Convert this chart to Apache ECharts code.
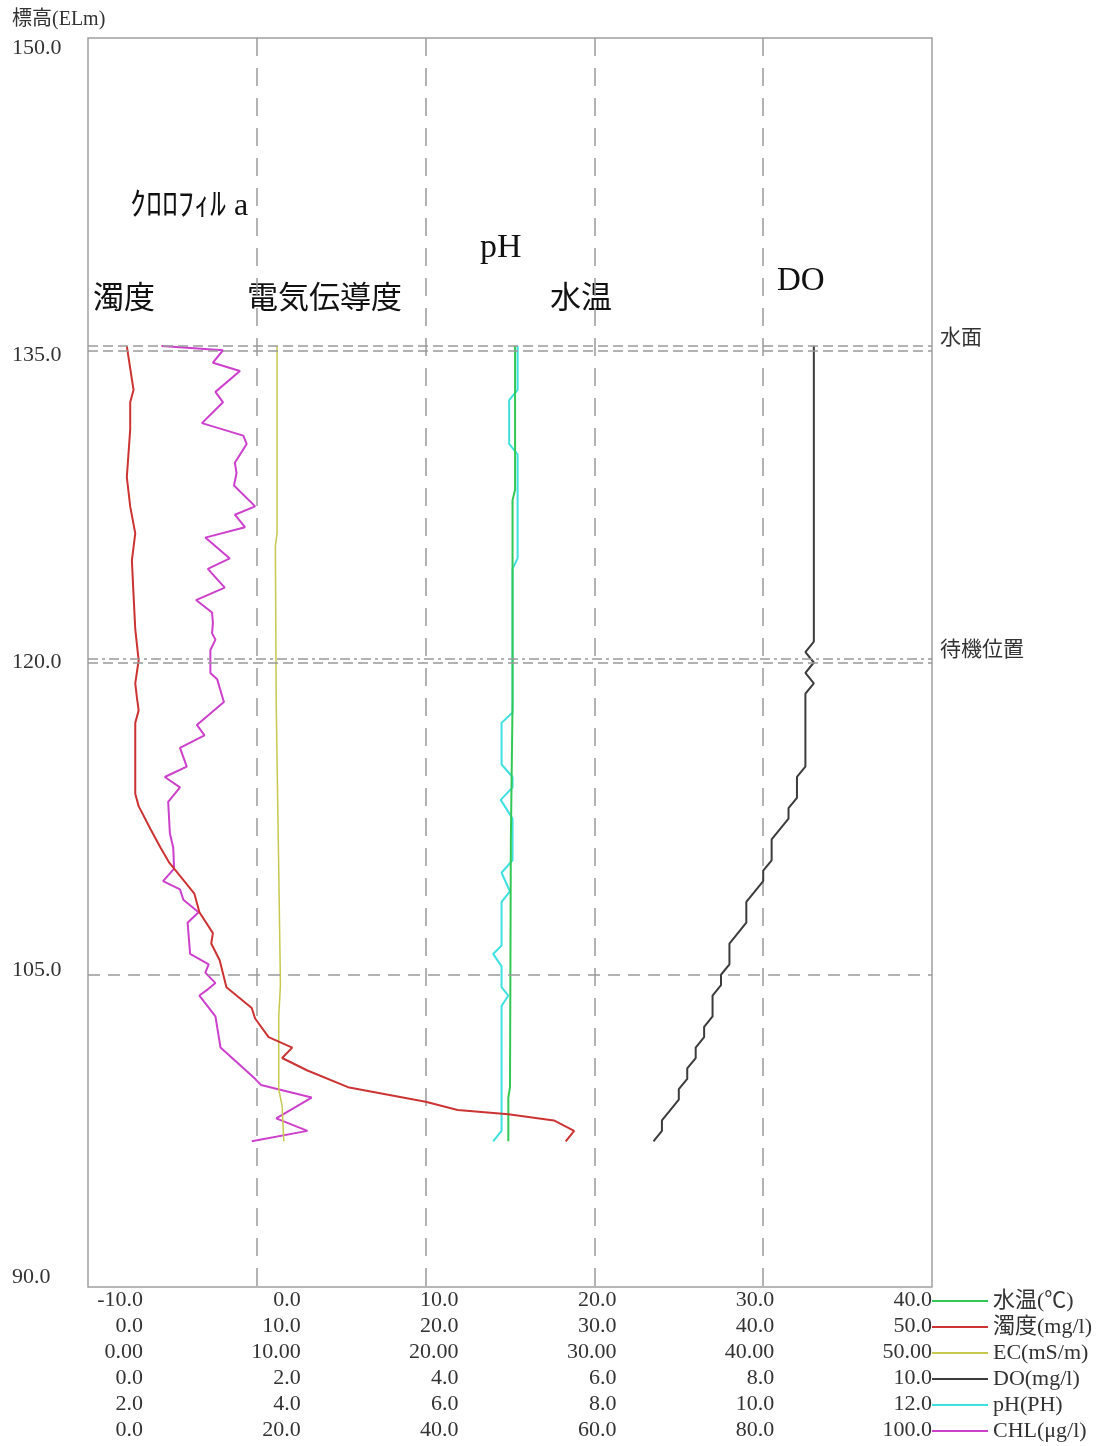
<!DOCTYPE html>
<html><head><meta charset="utf-8">
<script src="https://cdn.jsdelivr.net/npm/echarts@6/dist/echarts.min.js"></script>
<style>html,body{margin:0;padding:0;background:#fff}#c{width:1107px;height:1446px}</style>
</head><body><div id="c"></div>
<script>
// ---------------- data ----------------
const xAxisNames    = ['水温(℃)', '濁度(mg/l)', 'EC(mS/m)', 'DO(mg/l)', 'pH(PH)', 'CHL(μg/l)'];
const xAxisMin      = [-10, 0, 0, 0, 2, 0];
const xAxisMax      = [40, 50, 50, 10, 12, 100];
const xAxisStep     = [10, 10, 10, 2, 2, 20];
const xAxisDecimals = [1, 1, 2, 1, 1, 1];
const yMin = 90, yMax = 150, yStep = 15;
const refLines = [135.2, 135.0, 120.2, 120.0, 105.0];

const tempElev = [135.2, 128.3, 127.8, 118.0, 111.5, 99.6, 99.1, 97.0];
const tempVal  = [15.3, 15.3, 15.15, 15.15, 15.05, 15.0, 14.9, 14.9];

const turbElev = [135.2, 133.6, 133.1, 132.5, 131.2, 128.9, 127.5, 126.2, 124.9, 123.2, 121.6, 120.1, 119.0, 118.3, 117.7, 117.1, 115.9, 113.7, 113.1, 112.0, 111.1, 110.4, 109.7, 108.9, 108.0, 107.0, 106.5, 105.7, 104.4, 103.4, 102.9, 102.0, 101.5, 101.0, 100.4, 99.6, 98.9, 98.5, 98.3, 98.0, 97.5, 97.0];
const turbVal  = [2.3, 2.6, 2.7, 2.5, 2.5, 2.3, 2.5, 2.8, 2.6, 2.7, 2.8, 3.0, 2.8, 2.9, 3.0, 2.8, 2.8, 2.8, 3.0, 3.7, 4.3, 4.8, 5.5, 6.3, 6.6, 7.4, 7.3, 7.8, 8.2, 9.7, 9.9, 10.7, 12.1, 11.5, 13.0, 15.4, 20.0, 21.9, 24.9, 27.6, 28.8, 28.3];

const ecElev = [135.2, 126.2, 125.6, 118.0, 110.0, 104.5, 103.0, 99.5, 98.7, 97.0];
const ecVal  = [11.2, 11.2, 11.1, 11.15, 11.3, 11.4, 11.3, 11.3, 11.5, 11.6];

const doElev = [135.2, 121.0, 120.5, 120.0, 119.5, 119.0, 118.5, 115.0, 114.5, 113.5, 113.0, 112.5, 111.5, 110.5, 110.0, 109.5, 108.5, 107.5, 106.5, 105.5, 105.0, 104.5, 104.0, 103.0, 102.5, 102.0, 101.5, 101.0, 100.5, 100.0, 99.5, 99.0, 98.0, 97.5, 97.0];
const doVal  = [8.6, 8.6, 8.5, 8.6, 8.5, 8.6, 8.5, 8.5, 8.4, 8.4, 8.3, 8.3, 8.1, 8.1, 8.0, 8.0, 7.8, 7.8, 7.6, 7.6, 7.5, 7.5, 7.4, 7.4, 7.3, 7.3, 7.2, 7.2, 7.1, 7.1, 7.0, 7.0, 6.8, 6.8, 6.7];

const phElev = [135.2, 133.1, 132.6, 130.5, 130.0, 125.0, 124.5, 117.6, 117.1, 115.1, 114.5, 114.0, 113.4, 112.5, 110.5, 109.9, 109.0, 108.5, 106.4, 106.0, 105.4, 104.4, 104.0, 103.5, 97.5, 97.0];
const phVal  = [7.09, 7.09, 6.99, 6.99, 7.09, 7.09, 7.03, 7.03, 6.90, 6.90, 7.03, 7.03, 6.89, 7.03, 7.03, 6.90, 7.00, 6.90, 6.90, 6.80, 6.90, 6.90, 6.98, 6.90, 6.90, 6.80];

const chlElev = [135.2, 135.0, 134.4, 134.0, 133.0, 132.5, 131.5, 130.9, 130.5, 129.6, 129.1, 128.5, 127.5, 127.1, 126.5, 126.0, 125.0, 124.5, 123.6, 123.0, 122.4, 121.9, 121.4, 121.1, 120.6, 119.5, 119.2, 118.1, 117.0, 116.5, 115.9, 115.0, 114.5, 114.0, 113.3, 111.8, 111.1, 110.1, 109.5, 109.1, 108.6, 108.0, 107.5, 106.0, 105.5, 105.1, 104.6, 104.3, 104.0, 103.0, 101.5, 100.0, 99.7, 99.1, 98.1, 97.5, 97.0];
const chlVal  = [8.7, 16.0, 14.8, 18.0, 15.1, 16.0, 13.5, 18.4, 18.8, 17.4, 17.6, 17.3, 19.8, 17.4, 18.6, 13.9, 16.8, 14.2, 16.2, 12.8, 14.7, 14.8, 14.7, 15.1, 14.5, 14.5, 15.3, 16.1, 12.9, 13.8, 10.9, 11.7, 9.1, 10.9, 9.5, 9.7, 10.1, 10.2, 8.9, 10.9, 11.3, 13.1, 11.8, 12.1, 14.3, 13.9, 15.1, 14.2, 13.2, 15.1, 15.7, 19.8, 20.5, 26.5, 22.3, 26.0, 19.4];

// ---------------- layout / style ----------------
const SERIF = "'Liberation Serif','Noto Sans CJK JP',serif";
const SANS = "'Noto Sans CJK JP',sans-serif";
const G = {left: 88, top: 38, width: 844, height: 1249};
const LBL_R0 = 143, LBL_RN = 932;      // right edges of first/last x labels
const LBL_SIZE = 22;
const ROW = 26;
const colors = {temp: '#33c855', turb: '#cc3333', ec: '#c8c850', do: '#3c3c3c', ph: '#3fe0e0', chl: '#cc40cc'};

const measure = (() => { const ctx = document.createElement('canvas').getContext('2d'); return (s, f) => { ctx.font = f; return ctx.measureText(s).width; }; })();
const lblFontStr = LBL_SIZE + 'px ' + SERIF;

function buildXAxis(i) {
  const min = xAxisMin[i], max = xAxisMax[i], step = xAxisStep[i], dec = xAxisDecimals[i];
  const n = Math.round((max - min) / step);
  const rich = {t: {fontFamily: SERIF, fontSize: LBL_SIZE, lineHeight: 22, color: '#333'}};
  const side = [];
  for (let k = 0; k <= n; k++) {
    const txt = (min + k * step).toFixed(dec);
    const w = measure(txt, lblFontStr);
    const tick = G.left + k * G.width / n;
    const right = LBL_R0 + k * (LBL_RN - LBL_R0) / n;
    const d = (right - w / 2) - tick;
    side[k] = d >= 0 ? 'L' : 'R';
    rich['s' + k] = {width: Math.max(0.01, 2 * Math.abs(d)), fontSize: LBL_SIZE, lineHeight: 22};
  }
  return {
    type: 'value', gridIndex: 0, position: 'bottom', offset: i * ROW,
    min, max, interval: step,
    axisLine: {show: false}, axisTick: {show: false},
    splitLine: i === 0 ? {show: true, showMinLine: false, showMaxLine: false,
      lineStyle: {color: '#9a9a9a', width: 1.5, type: [18, 12]}} : {show: false},
    axisLabel: {
      show: true, margin: 2, align: 'center', showMinLabel: true, showMaxLabel: true, hideOverlap: false,
      formatter: (v) => {
        const k = Math.round((v - min) / step);
        const txt = v.toFixed(dec);
        return side[k] === 'L' ? '{s' + k + '| }{t|' + txt + '}' : '{t|' + txt + '}{s' + k + '| }';
      },
      rich
    }
  };
}

const yRich = {t: {fontFamily: SERIF, fontSize: LBL_SIZE, lineHeight: 22, color: '#333'}};
const yOff = [];
for (let k = 0; k <= 4; k++) {
  const off = (48 + k * (1277 - 48) / 4) - (G.top + k * G.height / 4);
  yOff[k] = off;
  yRich['v' + k] = {fontSize: 8, lineHeight: Math.max(1, Math.round(Math.abs(off) * 2)), height: Math.max(1, Math.round(Math.abs(off) * 2))};
}

function pairs(e, v) { return e.map((y, i) => [v[i], y]); }
function lineSeries(name, xi, e, v, color, width) {
  return {type: 'line', name, xAxisIndex: xi, yAxisIndex: 0, data: pairs(e, v),
    symbol: 'none', showSymbol: false, clip: false, color,
    lineStyle: {color, width: width || 2}, emphasis: {disabled: true}};
}

const refLabel = (txt) => ({show: true, position: 'end', distance: 8, formatter: txt,
  fontFamily: SANS, fontSize: 21, color: '#333', verticalAlign: 'bottom', align: 'left'});

const doSeries = lineSeries(xAxisNames[3], 3, doElev, doVal, colors.do, 2);
doSeries.markLine = {
  silent: true, symbol: 'none', animation: false,
  lineStyle: {color: '#999', width: 1.5},
  label: {show: false},
  data: [
    {yAxis: refLines[0], lineStyle: {type: [10, 5]}, label: refLabel('水面')},
    {yAxis: refLines[1], lineStyle: {type: [10, 5]}},
    {yAxis: refLines[2], lineStyle: {type: [10, 4, 3, 4]}, label: refLabel('待機位置')},
    {yAxis: refLines[3], lineStyle: {type: [10, 5]}},
    {yAxis: refLines[4], lineStyle: {type: [12, 8]}}
  ]
};

const annFont = (s, f) => s + 'px ' + f;
const option = {
  animation: false,
  backgroundColor: '#fff',
  title: {text: '標高(ELm)', left: 12, top: 10, padding: 0,
    textStyle: {fontFamily: SERIF, fontSize: 20, fontWeight: 'normal', color: '#333'}},
  grid: {left: G.left, top: G.top, width: G.width, height: G.height, containLabel: false, outerBoundsMode: 'none',
    show: true, borderColor: '#a0a0a0', borderWidth: 1.5, backgroundColor: 'transparent'},
  legend: {
    orient: 'vertical', left: 932, top: 1290, padding: 0, itemGap: ROW - 22,
    itemWidth: 56, itemHeight: 2, icon: 'rect', selectedMode: false,
    data: xAxisNames,
    textStyle: {fontFamily: SERIF, fontSize: 22, lineHeight: 22, color: '#333'}
  },
  xAxis: xAxisNames.map((_, i) => buildXAxis(i)),
  yAxis: {
    type: 'value', min: yMin, max: yMax, interval: yStep,
    axisLine: {show: false}, axisTick: {show: false}, splitLine: {show: false},
    axisLabel: {
      show: true, align: 'left', margin: 76, showMinLabel: true, showMaxLabel: true,
      formatter: (v) => {
        const k = Math.round((yMax - v) / yStep);
        const txt = v.toFixed(1);
        if (yOff[k] > 0.5) return '{v' + k + '| }\n{t|' + txt + '}';
        if (yOff[k] < -0.5) return '{t|' + txt + '}\n{v' + k + '| }';
        return '{t|' + txt + '}';
      },
      rich: yRich
    }
  },
  series: [
    lineSeries(xAxisNames[5], 5, chlElev, chlVal, colors.chl, 2),
    lineSeries(xAxisNames[2], 2, ecElev, ecVal, colors.ec, 1.5),
    lineSeries(xAxisNames[4], 4, phElev, phVal, colors.ph, 2),
    lineSeries(xAxisNames[0], 0, tempElev, tempVal, colors.temp, 2),
    doSeries,
    lineSeries(xAxisNames[1], 1, turbElev, turbVal, colors.turb, 2)
  ],
  graphic: [
    {type: 'text', x: 130, y: 207, style: {text: 'ｸﾛﾛﾌｨﾙ a', font: annFont(32, SERIF), fill: '#111', align: 'left', verticalAlign: 'middle'}},
    {type: 'text', x: 480, y: 248, style: {text: 'pH', font: annFont(34, SERIF), fill: '#111', align: 'left', verticalAlign: 'middle'}},
    {type: 'text', x: 93, y: 300, style: {text: '濁度', font: annFont(31, SERIF), fill: '#111', align: 'left', verticalAlign: 'middle'}},
    {type: 'text', x: 247, y: 300, style: {text: '電気伝導度', font: annFont(31, SERIF), fill: '#111', align: 'left', verticalAlign: 'middle'}},
    {type: 'text', x: 550, y: 300, style: {text: '水温', font: annFont(31, SERIF), fill: '#111', align: 'left', verticalAlign: 'middle'}},
    {type: 'text', x: 777, y: 281, style: {text: 'DO', font: annFont(33, SERIF), fill: '#111', align: 'left', verticalAlign: 'middle'}}
  ]
};

const chart = echarts.init(document.getElementById('c'), null, {renderer: 'canvas'});
chart.setOption(option);
</script>
</body></html>
